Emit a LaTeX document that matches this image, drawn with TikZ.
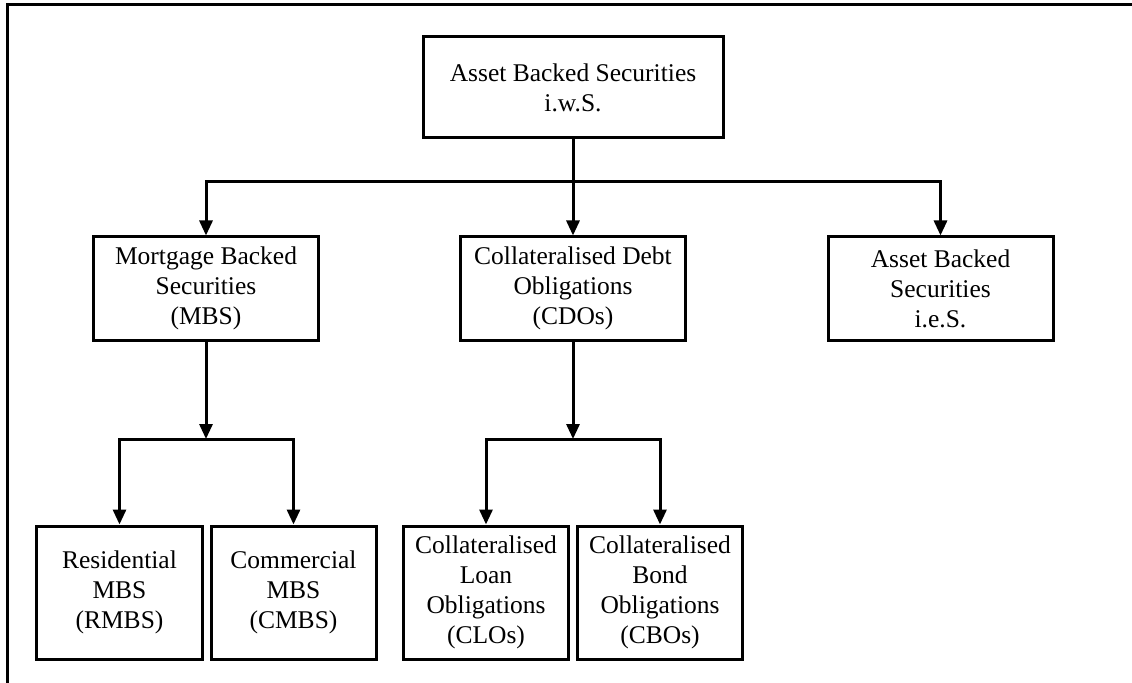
\documentclass[tikz,border=0pt]{standalone}
\usepackage{fontspec}
\setmainfont{Liberation Serif}
\usetikzlibrary{arrows.meta}
\begin{document}
\begin{tikzpicture}[x=1bp,y=-1bp,
  box/.style={draw,line width=3bp,rectangle,inner sep=0pt,align=center,
    font=\fontsize{25.5bp}{30bp}\selectfont},
  wide/.style={box,minimum width=300bp,minimum height=101bp},
  mid/.style={box,minimum width=225bp,minimum height=103bp},
  leaf/.style={box,minimum width=165bp,minimum height=133bp},
  link/.style={line width=3bp},
  arr/.style={link,-{Triangle[length=15bp,width=13bp]}},
  frame/.style={line width=3bp}]
\useasboundingbox (0,0) rectangle (1132,683);
% open frame along the top and left edges
\draw[frame] (7,683) -- (7,5) -- (1132,5);

% top level
\node[wide] (abs) at (573,87.5) {Asset Backed Securities\\i.w.S.};

% second level
\node[mid] (mbs) at (206,288.5) {Mortgage Backed\\Securities\\(MBS)};
\node[mid] (cdo) at (573,288.5) {Collateralised Debt\\Obligations\\(CDOs)};
\node[mid] (ies) at (940.5,288.5) {Asset Backed\\Securities\\i.e.S.};

% third level
\node[leaf] (rmbs) at (119.5,592.5) {Residential\\MBS\\(RMBS)};
\node[leaf] (cmbs) at (293.5,592.5) {Commercial\\MBS\\(CMBS)};
\node[leaf] (clo)  at (486,592.5) {Collateralised\\Loan\\Obligations\\(CLOs)};
\node[leaf] (cbo)  at (660,592.5) {Collateralised\\Bond\\Obligations\\(CBOs)};

% junction points
\coordinate (j1) at (573,182);
\coordinate (j2) at (206,439);
\coordinate (j3) at (573,439);

% top level to second level
\draw[arr] (abs.south) -- (cdo.north);
\draw[arr] (j1) -| (mbs.north);
\draw[arr] (j1) -| (ies.north);

% MBS branch
\draw[arr] (mbs.south) -- (j2);
\draw[arr] (j2) -| (rmbs.north);
\draw[arr] (j2) -| (cmbs.north);

% CDO branch
\draw[arr] (cdo.south) -- (j3);
\draw[arr] (j3) -| (clo.north);
\draw[arr] (j3) -| (cbo.north);
\end{tikzpicture}
\end{document}
